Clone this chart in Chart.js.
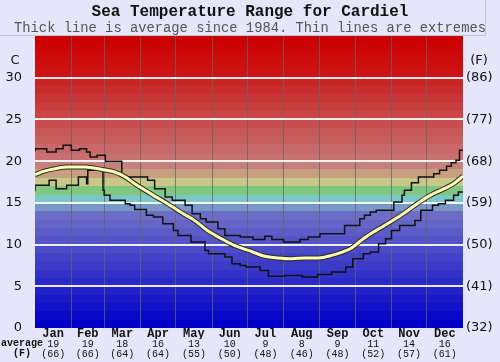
<!DOCTYPE html>
<html>
<head>
<meta charset="utf-8">
<script src="https://cdn.jsdelivr.net/npm/chart.js@4.4.0/dist/chart.umd.min.js"></script>
<style>
  html, body { margin: 0; padding: 0; background: #e6e6fa; }
  #wrap { width: 500px; height: 362px; }
</style>
</head>
<body>
<div id="wrap"><canvas id="seaChart" width="500" height="362"></canvas></div>
<script>
// month labels and the monthly averages printed under the axis
const monthNames = ['Jan', 'Feb', 'Mar', 'Apr', 'May', 'Jun', 'Jul', 'Aug', 'Sep', 'Oct', 'Nov', 'Dec'];
const monthAvgC = ['19', '19', '18', '16', '13', '10', '9', '8', '9', '11', '14', '16'];
const monthAvgF = ['(66)', '(66)', '(64)', '(64)', '(55)', '(50)', '(48)', '(46)', '(48)', '(52)', '(57)', '(61)'];
const monthStarts = [0, 31, 59, 90, 120, 151, 181, 212, 243, 273, 304, 334, 365];

// temperature ticks, Celsius on the left, Fahrenheit on the right
const yTicksC = [0, 5, 10, 15, 20, 25, 30];
const yTicksF = ['(32)', '(41)', '(50)', '(59)', '(68)', '(77)', '(86)'];

// average line (day of year, deg C)
const avgDays = [0, 8, 17, 28, 43, 57, 68, 77, 85, 94, 101, 113, 124, 136, 147, 159, 170, 182, 196, 207, 219, 230, 242, 253, 262, 270, 280, 291, 303, 314, 326, 337, 349, 357, 365];
const avgTemps = [18.4, 18.8, 19.1, 19.3, 19.3, 19.0, 18.7, 18.1, 17.3, 16.5, 15.9, 14.9, 13.9, 12.9, 11.7, 10.7, 9.9, 9.3, 8.6, 8.4, 8.3, 8.4, 8.4, 8.7, 9.1, 9.6, 10.7, 11.7, 12.7, 13.7, 14.9, 15.9, 16.7, 17.3, 18.2];

// highest recorded
const maxDays = [0, 10, 18, 24, 31, 38, 44, 47, 53, 60, 74, 96, 102, 111, 117, 128, 134, 141, 146, 156, 162, 175, 186, 196, 202, 212, 226, 233, 243, 264, 277, 281, 286, 291, 306, 313, 315, 321, 327, 340, 345, 351, 355, 359, 362, 364, 365];
const maxTemps = [21.2, 21.5, 21.1, 21.5, 21.9, 21.3, 21.5, 21.1, 20.5, 20.7, 20.0, 18.1, 17.7, 16.7, 15.7, 15.3, 14.7, 13.7, 13.1, 12.7, 11.9, 11.1, 10.9, 10.6, 11.0, 10.6, 10.3, 10.6, 10.9, 11.3, 12.3, 13.1, 13.5, 13.9, 14.1, 15.1, 15.9, 16.5, 17.4, 18.1, 18.5, 18.9, 19.4, 19.8, 20.1, 21.3, 21.3];

// lowest recorded
const minDays = [0, 12, 18, 27, 37, 44, 45, 58, 59, 64, 77, 81, 85, 95, 101, 109, 118, 122, 133, 145, 148, 162, 168, 175, 180, 192, 199, 213, 228, 241, 253, 265, 271, 280, 286, 293, 299, 304, 311, 324, 329, 339, 344, 350, 357, 361, 364, 365];
const minTemps = [16.4, 17.1, 17.7, 16.7, 17.1, 18.1, 17.3, 18.9, 16.5, 15.9, 15.3, 14.9, 14.7, 14.2, 13.5, 13.3, 12.5, 11.7, 11.1, 10.3, 9.3, 8.9, 8.5, 7.7, 7.5, 7.3, 6.9, 6.2, 6.3, 6.1, 6.4, 6.7, 7.3, 8.3, 8.9, 9.1, 10.1, 10.7, 11.7, 12.3, 12.9, 14.1, 14.7, 14.9, 15.3, 15.9, 16.3, 16.3];

const monthMids = monthNames.map((m, i) => (monthStarts[i] + monthStarts[i + 1]) / 2);
const toPoints = (days, temps) => days.map((d, i) => ({ x: d, y: temps[i] }));

// one colour band per degree, blue -> green/yellow -> red
function bandColour(t) {
    const fixed = {
        14: 'rgb(120,152,200)', 15: 'rgb(124,200,200)', 16: 'rgb(128,200,128)',
        17: 'rgb(200,200,136)', 18: 'rgb(200,160,128)', 19: 'rgb(200,128,124)'
    };
    if (fixed[t]) return fixed[t];
    if (t < 14) {
        const c = Math.round(t * 8.4);
        return `rgb(${c},${c},200)`;
    }
    if (t < 30) {
        const c = Math.round(112 - (t - 20) * 8.5);
        return `rgb(200,${c},${c})`;
    }
    const c = Math.max(0, Math.round(20 - (t - 30) * 5));
    return `rgb(204,${c},${c})`;
}

const backdrop = {
    id: 'backdrop',
    beforeDraw(chart) {
        const { ctx, chartArea: a } = chart;
        const y = chart.scales.y;
        ctx.save();
        ctx.fillStyle = '#e6e6fa';
        ctx.fillRect(0, 0, chart.width, chart.height);
        ctx.strokeStyle = '#c4c4d8';
        ctx.lineWidth = 1;
        ctx.beginPath();
        ctx.moveTo(0, 35.5); ctx.lineTo(485.5, 35.5); ctx.lineTo(485.5, 0);
        ctx.stroke();
        for (let t = 0; t < 35; t++) {
            const top = Math.round(y.getPixelForValue(t + 1));
            const bot = Math.round(y.getPixelForValue(t));
            ctx.fillStyle = bandColour(t);
            ctx.fillRect(a.left, top, a.width, bot - top);
        }
        ctx.restore();
    },
    afterDraw(chart) {
        const { ctx } = chart;
        const y = chart.scales.y;
        const x2 = chart.scales.x2;
        ctx.save();
        ctx.fillStyle = '#111';
        ctx.textAlign = 'center';
        ctx.textBaseline = 'middle';
        ctx.font = '13px "DejaVu Sans", sans-serif';
        ctx.fillText('C', 15, y.getPixelForValue(32));
        ctx.fillText('(F)', 479, y.getPixelForValue(32));
        ctx.font = 'bold 10px "Liberation Mono", monospace';
        ctx.fillText('average', 22, x2.top + 4);
        ctx.fillText('(F)', 22, x2.top + 14);
        ctx.restore();
    }
};

new Chart(document.getElementById('seaChart'), {
    type: 'line',
    data: {
        datasets: [
            {
                label: 'average',
                data: toPoints(avgDays, avgTemps),
                borderColor: '#ffffb4',
                borderWidth: 3,
                tension: 0.4,
                cubicInterpolationMode: 'monotone',
                order: 0
            },
            {
                label: 'average edge',
                data: toPoints(avgDays, avgTemps),
                borderColor: '#2a2a2a',
                borderWidth: 5,
                tension: 0.4,
                cubicInterpolationMode: 'monotone',
                order: 1
            },
            {
                label: 'max',
                data: toPoints(maxDays, maxTemps),
                borderColor: '#111',
                borderWidth: 1.5,
                stepped: 'after',
                order: 2
            },
            {
                label: 'min',
                data: toPoints(minDays, minTemps),
                borderColor: '#111',
                borderWidth: 1.5,
                stepped: 'after',
                order: 3
            }
        ]
    },
    options: {
        responsive: false,
        animation: false,
        devicePixelRatio: 1,
        layout: { padding: 0 },
        elements: { point: { radius: 0 } },
        plugins: {
            legend: { display: false },
            tooltip: { enabled: false },
            title: {
                display: true,
                text: 'Sea Temperature Range for Cardiel',
                color: '#111',
                font: { family: '"Liberation Mono", monospace', size: 16, weight: 'bold', lineHeight: 1.2 },
                padding: { top: 2, bottom: 0 }
            },
            subtitle: {
                display: true,
                text: 'Thick line is average since 1984. Thin lines are extremes',
                color: '#555',
                font: { family: '"Liberation Mono", monospace', size: 13.8, lineHeight: 1 },
                padding: { top: 0, bottom: 1 }
            }
        },
        scales: {
            x: {
                type: 'linear',
                position: 'bottom',
                weight: 0,
                min: 0,
                max: 365,
                afterBuildTicks: s => {
                    s.ticks = [...monthStarts, ...monthMids].sort((p, q) => p - q).map(v => ({ value: v }));
                },
                afterFit: s => { s.height = 11; },
                ticks: {
                    autoSkip: false,
                    maxRotation: 0,
                    padding: 0,
                    color: '#111',
                    font: { family: '"Liberation Mono", monospace', size: 12, weight: 'bold', lineHeight: 1 },
                    callback: v => {
                        const i = monthMids.indexOf(v);
                        return i >= 0 ? monthNames[i] : '';
                    }
                },
                grid: {
                    drawTicks: false,
                    lineWidth: 1,
                    color: c => {
                        const v = c.tick && c.tick.value;
                        return (v > 0 && v < 365 && monthStarts.includes(v)) ? 'rgba(100,100,100,0.75)' : 'rgba(0,0,0,0)';
                    }
                },
                border: { display: false }
            },
            x2: {
                type: 'linear',
                position: 'bottom',
                weight: 1,
                min: 0,
                max: 365,
                afterBuildTicks: s => { s.ticks = monthMids.map(v => ({ value: v })); },
                afterFit: s => { s.height = 23; },
                ticks: {
                    autoSkip: false,
                    maxRotation: 0,
                    padding: 0,
                    color: '#111',
                    font: { family: '"Liberation Mono", monospace', size: 10, lineHeight: 1 },
                    callback: (v, i) => [monthAvgC[i], monthAvgF[i]]
                },
                grid: { display: false, drawTicks: false },
                border: { display: false }
            },
            y: {
                position: 'left',
                min: 0,
                max: 35,
                afterBuildTicks: s => { s.ticks = yTicksC.map(v => ({ value: v })); },
                afterFit: s => { s.width = 35; },
                ticks: {
                    padding: 13,
                    color: '#111',
                    font: { family: '"DejaVu Sans", sans-serif', size: 13 },
                    callback: v => String(v)
                },
                grid: {
                    drawTicks: false,
                    lineWidth: 2,
                    color: c => (c.tick && c.tick.value > 0) ? 'rgba(255,255,255,0.9)' : 'rgba(0,0,0,0)'
                },
                border: { display: false }
            },
            y2: {
                position: 'right',
                min: 0,
                max: 35,
                afterBuildTicks: s => { s.ticks = yTicksC.map(v => ({ value: v })); },
                afterFit: s => { s.width = 37; },
                ticks: {
                    padding: 3,
                    color: '#111',
                    font: { family: '"DejaVu Sans", sans-serif', size: 13 },
                    callback: (v, i) => yTicksF[i]
                },
                grid: { display: false, drawTicks: false },
                border: { display: false }
            }
        }
    },
    plugins: [backdrop]
});
</script>
</body>
</html>
